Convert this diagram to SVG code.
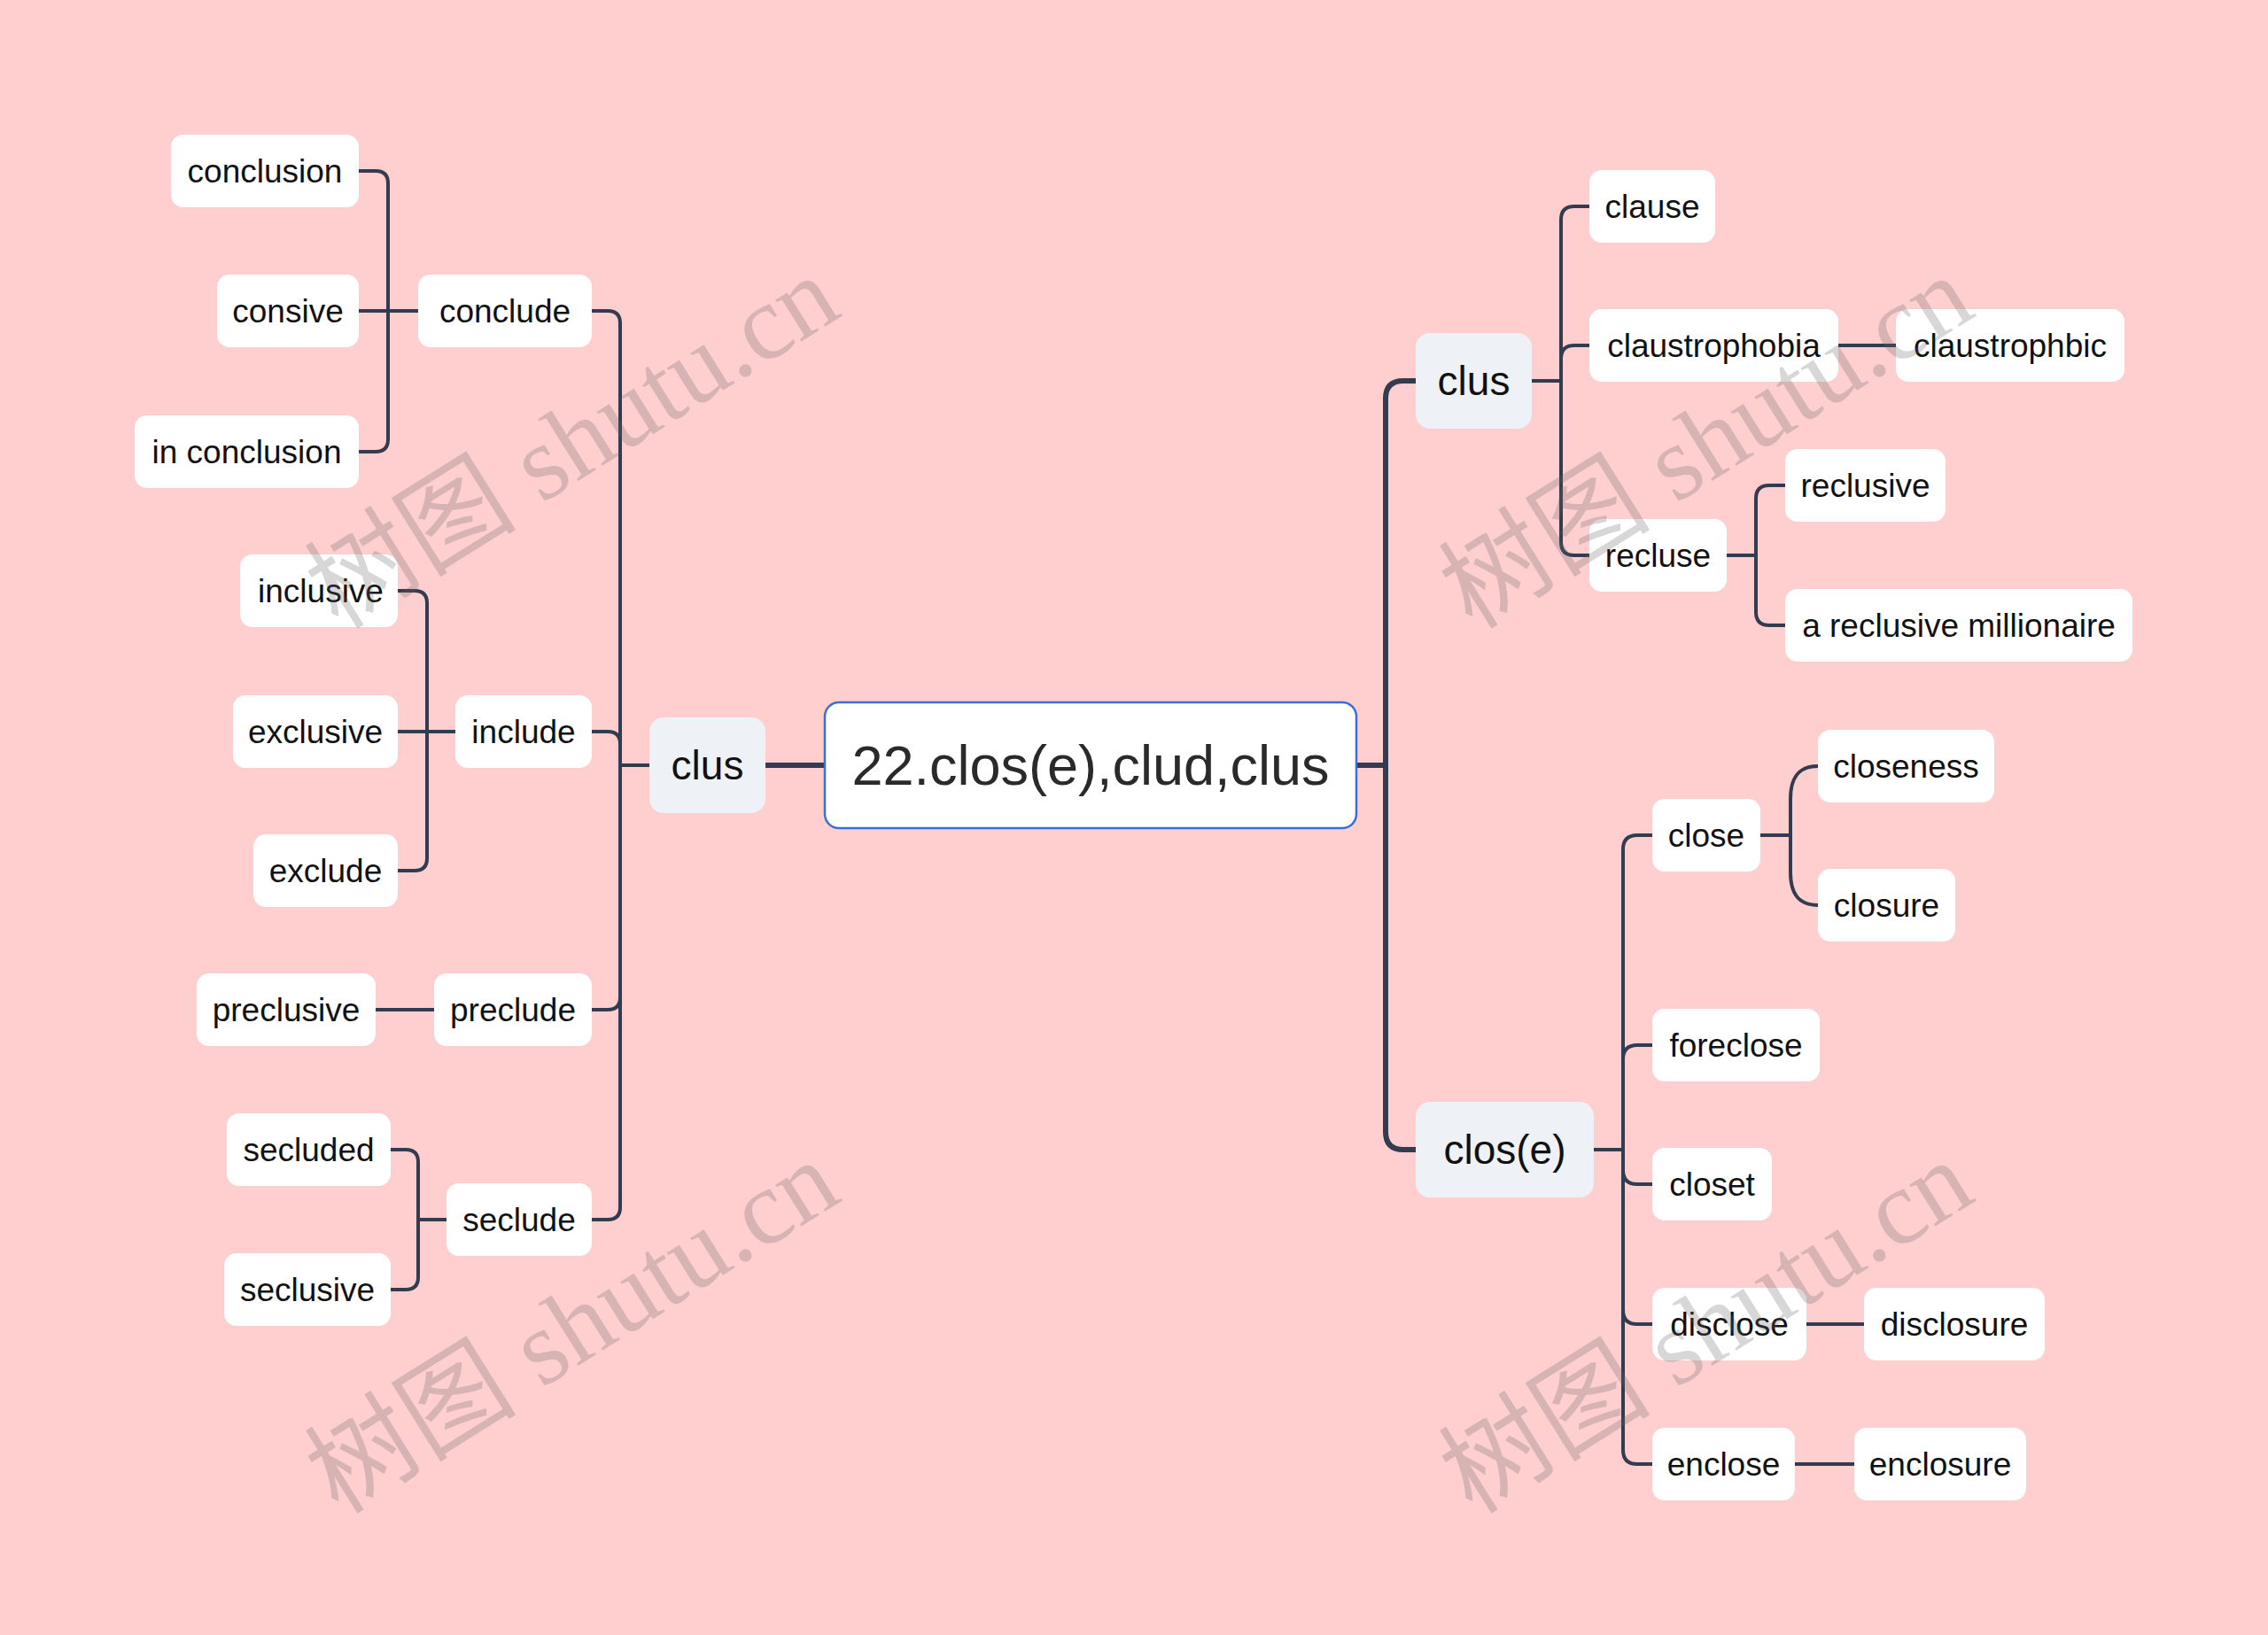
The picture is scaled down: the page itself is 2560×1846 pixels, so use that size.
<svg xmlns="http://www.w3.org/2000/svg" width="2560" height="1846" viewBox="0 0 2560 1846">
<style>
.bg{fill:#ffcfcf}
.n rect{fill:#ffffff}
.n text{font-family:"Liberation Sans",Arial,sans-serif;font-size:37px;fill:#111111;text-anchor:middle}
.l1 rect{fill:#eef1f5}
.l1 text{font-family:"Liberation Sans",Arial,sans-serif;font-size:46px;fill:#111111;text-anchor:middle}
.root rect{fill:#ffffff;stroke:#3b6fd4;stroke-width:2.5}
.root text{font-family:"Liberation Sans",Arial,sans-serif;font-size:63px;fill:#2a2a2a;text-anchor:middle}
.c path{fill:none;stroke:#323b4f;stroke-width:4;stroke-linecap:butt}
.c path.thick{stroke-width:6}
.wm{font-family:"Liberation Serif","Noto Sans CJK SC",serif;font-size:120px;fill:#646464;fill-opacity:0.26}
</style>
<rect class="bg" x="0" y="0" width="2560" height="1846"/>

<g id="connectors" class="c">
  <path class="thick" d="M931 864 H864"/>
  <path class="thick" d="M1531 864 H1564"/>
  <path class="thick" d="M1598 430 H1584 Q1564 430 1564 450 V1278 Q1564 1298 1584 1298 H1598"/>
  <path d="M733 864 H700"/>
  <path d="M668 351 H686 Q700 351 700 365 V1363 Q700 1377 686 1377 H668"/>
  <path d="M668 826 H686 Q700 826 700 840"/>
  <path d="M668 1140 H686 Q700 1140 700 1126"/>
  <path d="M405 193 H424 Q438 193 438 207 V496 Q438 510 424 510 H405"/>
  <path d="M405 351 H472"/>
  <path d="M449 667 H468 Q482 667 482 681 V969 Q482 983 468 983 H449"/>
  <path d="M449 826 H514"/>
  <path d="M424 1140 H490"/>
  <path d="M441 1298 H458 Q472 1298 472 1312 V1442 Q472 1456 458 1456 H441"/>
  <path d="M472 1377 H504"/>
  <path d="M1729 430 H1762"/>
  <path d="M1794 233 H1777 Q1762 233 1762 248 V612 Q1762 627 1777 627 H1794"/>
  <path d="M1794 390 H1777 Q1762 390 1762 405"/>
  <path d="M2075 390 H2140"/>
  <path d="M1949 627 H1982"/>
  <path d="M2015 548 H1997 Q1982 548 1982 563 V691 Q1982 706 1997 706 H2015"/>
  <path d="M1799 1298 H1832"/>
  <path d="M1865 943 H1848 Q1832 943 1832 959 V1637 Q1832 1653 1848 1653 H1865"/>
  <path d="M1865 1180 H1848 Q1832 1180 1832 1196"/>
  <path d="M1865 1337 H1848 Q1832 1337 1832 1321"/>
  <path d="M1865 1495 H1848 Q1832 1495 1832 1479"/>
  <path d="M1987 943 H2021"/>
  <path d="M2052 865 C2030 865 2021 878 2021 902 V985 C2021 1009 2030 1022 2052 1022"/>
  <path d="M2039 1495 H2104"/>
  <path d="M2026 1653 H2093"/>
</g>

<g id="root" class="root"><rect x="931" y="793" width="600" height="142" rx="16"/><text x="1231" y="886">22.clos(e),clud,clus</text></g>

<g id="clus-left" class="l1"><rect x="733" y="810" width="131" height="108" rx="16"/><text x="798.5" y="880">clus</text></g>
<g id="clus-right" class="l1"><rect x="1598" y="376" width="131" height="108" rx="16"/><text x="1663.5" y="446">clus</text></g>
<g id="close-root" class="l1"><rect x="1598" y="1244" width="201" height="108" rx="16"/><text x="1698.5" y="1314">clos(e)</text></g>

<g id="conclude" class="n"><rect x="472" y="310" width="196" height="82" rx="14"/><text x="570" y="364">conclude</text></g>
<g id="include" class="n"><rect x="514" y="785" width="154" height="82" rx="14"/><text x="591" y="839">include</text></g>
<g id="preclude" class="n"><rect x="490" y="1099" width="178" height="82" rx="14"/><text x="579" y="1153">preclude</text></g>
<g id="seclude" class="n"><rect x="504" y="1336" width="164" height="82" rx="14"/><text x="586" y="1390">seclude</text></g>

<g id="conclusion" class="n"><rect x="193" y="152" width="212" height="82" rx="14"/><text x="299" y="206">conclusion</text></g>
<g id="consive" class="n"><rect x="245" y="310" width="160" height="82" rx="14"/><text x="325" y="364">consive</text></g>
<g id="in-conclusion" class="n"><rect x="152" y="469" width="253" height="82" rx="14"/><text x="278.5" y="523">in conclusion</text></g>

<g id="inclusive" class="n"><rect x="271" y="626" width="178" height="82" rx="14"/><text x="362" y="680">inclusive</text></g>
<g id="exclusive" class="n"><rect x="263" y="785" width="186" height="82" rx="14"/><text x="356" y="839">exclusive</text></g>
<g id="exclude" class="n"><rect x="286" y="942" width="163" height="82" rx="14"/><text x="367.5" y="996">exclude</text></g>

<g id="preclusive" class="n"><rect x="222" y="1099" width="202" height="82" rx="14"/><text x="323" y="1153">preclusive</text></g>

<g id="secluded" class="n"><rect x="256" y="1257" width="185" height="82" rx="14"/><text x="348.5" y="1311">secluded</text></g>
<g id="seclusive" class="n"><rect x="253" y="1415" width="188" height="82" rx="14"/><text x="347" y="1469">seclusive</text></g>

<g id="clause" class="n"><rect x="1794" y="192" width="142" height="82" rx="14"/><text x="1865" y="246">clause</text></g>
<g id="claustrophobia" class="n"><rect x="1794" y="349" width="281" height="82" rx="14"/><text x="1934.5" y="403">claustrophobia</text></g>
<g id="claustrophbic" class="n"><rect x="2140" y="349" width="258" height="82" rx="14"/><text x="2269" y="403">claustrophbic</text></g>
<g id="recluse" class="n"><rect x="1794" y="586" width="155" height="82" rx="14"/><text x="1871.5" y="640">recluse</text></g>
<g id="reclusive" class="n"><rect x="2015" y="507" width="181" height="82" rx="14"/><text x="2105.5" y="561">reclusive</text></g>
<g id="reclusive-millionaire" class="n"><rect x="2015" y="665" width="392" height="82" rx="14"/><text x="2211" y="719">a reclusive millionaire</text></g>

<g id="close" class="n"><rect x="1865" y="902" width="122" height="82" rx="14"/><text x="1926" y="956">close</text></g>
<g id="closeness" class="n"><rect x="2052" y="824" width="199" height="82" rx="14"/><text x="2151.5" y="878">closeness</text></g>
<g id="closure" class="n"><rect x="2052" y="981" width="155" height="82" rx="14"/><text x="2129.5" y="1035">closure</text></g>
<g id="foreclose" class="n"><rect x="1865" y="1139" width="189" height="82" rx="14"/><text x="1959.5" y="1193">foreclose</text></g>
<g id="closet" class="n"><rect x="1865" y="1296" width="135" height="82" rx="14"/><text x="1932.5" y="1350">closet</text></g>
<g id="disclose" class="n"><rect x="1865" y="1454" width="174" height="82" rx="14"/><text x="1952" y="1508">disclose</text></g>
<g id="disclosure" class="n"><rect x="2104" y="1454" width="204" height="82" rx="14"/><text x="2206" y="1508">disclosure</text></g>
<g id="enclose" class="n"><rect x="1865" y="1612" width="161" height="82" rx="14"/><text x="1945.5" y="1666">enclose</text></g>
<g id="enclosure" class="n"><rect x="2093" y="1612" width="194" height="82" rx="14"/><text x="2190" y="1666">enclosure</text></g>

<g id="watermarks">
  <text class="wm" transform="translate(382 712) rotate(-32)">树图 shutu.cn</text>
  <text class="wm" transform="translate(382 1711) rotate(-32)">树图 shutu.cn</text>
  <text class="wm" transform="translate(1662 712) rotate(-32)">树图 shutu.cn</text>
  <text class="wm" transform="translate(1662 1711) rotate(-32)">树图 shutu.cn</text>
</g>
</svg>
